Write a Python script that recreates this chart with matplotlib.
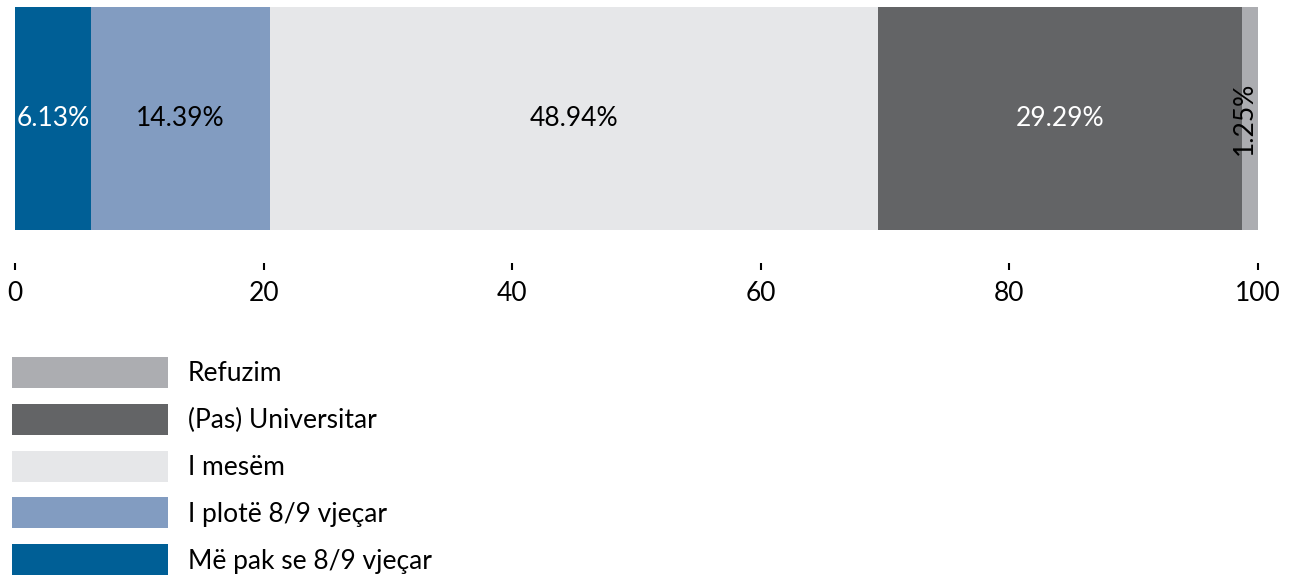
import matplotlib
matplotlib.use("Agg")
import matplotlib.pyplot as plt

plt.rcParams['font.family'] = ['Lato', 'DejaVu Sans']

categories = ["Më pak se 8/9 vjeçar", "I plotë 8/9 vjeçar", "I mesëm", "(Pas) Universitar", "Refuzim"]
values = [6.13, 14.39, 48.94, 29.29, 1.25]
colors = ["#005f96", "#829cc1", "#e6e7e9", "#636466", "#acadb1"]
label_colors = ["white", "black", "black", "white", "black"]
label_rot = [0, 0, 0, 0, 90]
xticks = [0, 20, 40, 60, 80, 100]

W, H = 1290, 579
fig = plt.figure(figsize=(W / 100, H / 100), dpi=100)
left, right, top, bottom = 15, 1258, 7, 263
ax = fig.add_axes([left / W, 1 - bottom / H, (right - left) / W, (bottom - top) / H])

fs = 19
cum = 0
for cat, v, c, lc, rot in zip(categories, values, colors, label_colors, label_rot):
    ax.barh(0, v, left=cum, height=1.0, color=c, label=cat, linewidth=0)
    xpos = cum + v / 2 - (0.5 if rot else 0)
    ax.text(xpos, 0, f"{v:.2f}%", ha="center", va="center",
            color=lc, fontsize=fs, rotation=rot)
    cum += v

ax.set_xlim(0, 100)
ax.set_ylim(-0.648, 0.5)
ax.set_yticks([])
ax.set_xticks(xticks)
ax.set_xticklabels([str(t) for t in xticks])
ax.tick_params(axis="x", length=5, width=1.5, pad=8, labelsize=fs, color="black")
for s in ax.spines.values():
    s.set_visible(False)

handles, labels = ax.get_legend_handles_labels()
leg = fig.legend(handles[::-1], labels[::-1], loc="upper left",
                 bbox_to_anchor=(12 / W, 1 - 357 / H), frameon=False,
                 fontsize=fs, handlelength=5.9, handleheight=1.43,
                 handletextpad=0.76, labelspacing=0.60, borderpad=0,
                 borderaxespad=0)

fig.savefig("out.png", dpi=100)
